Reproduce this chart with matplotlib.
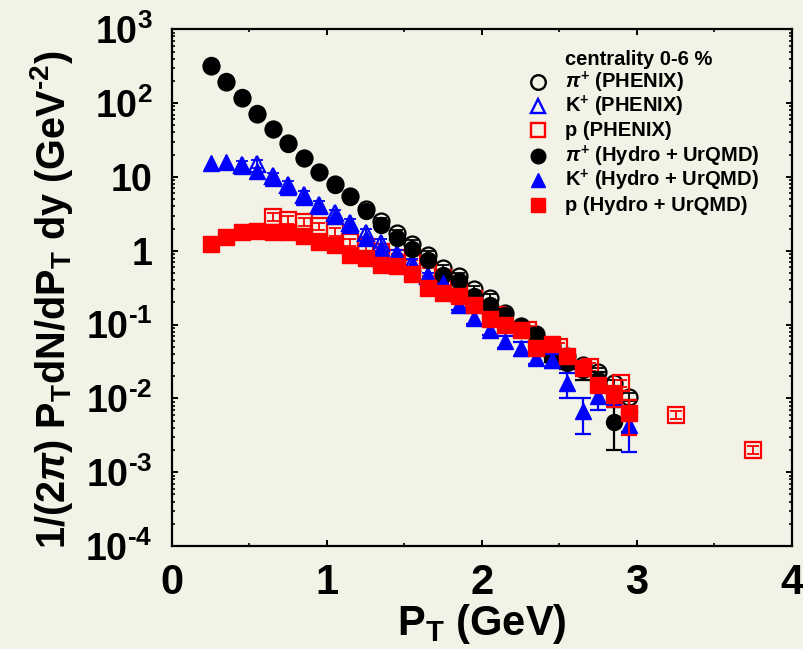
import matplotlib
matplotlib.use('Agg')
import matplotlib.pyplot as plt
import numpy as np
from matplotlib.lines import Line2D
from matplotlib.ticker import FixedLocator, FixedFormatter, MultipleLocator, LogLocator, NullFormatter

# ---------------- data ----------------
pt_bins = [0.25, 0.35, 0.45, 0.55, 0.65, 0.75, 0.85, 0.95, 1.05, 1.15, 1.25, 1.35, 1.45, 1.55,
           1.65, 1.75, 1.85, 1.95, 2.05, 2.15, 2.25, 2.35, 2.45, 2.55, 2.65, 2.75, 2.85, 2.95]

pi_phenix = [318, 196, 118, 72, 44, 28.5, 18.2, 11.8, 8.1, 5.6, 3.7, 2.5, 1.72, 1.25,
             0.88, 0.58, 0.45, 0.30, 0.229, 0.144, 0.095, 0.075, 0.052, 0.038, 0.028, 0.023, 0.016, 0.0105]

pt_k_phenix = [0.45, 0.55, 0.65, 0.75, 0.85, 0.95, 1.05, 1.15, 1.25, 1.35, 1.45, 1.55, 1.65, 1.75, 1.85, 1.95]
k_phenix = [14.5, 15.0, 10.2, 7.8, 5.7, 4.2, 3.2, 2.37, 1.74, 1.27, 0.91, 0.68, 0.45, 0.38, 0.27, 0.20]

pt_p_phenix = [0.65, 0.75, 0.85, 0.95, 1.05, 1.15, 1.25, 1.35, 1.45, 1.55, 1.65, 1.75, 1.85, 1.95,
               2.1, 2.3, 2.5, 2.7, 2.9, 3.25, 3.75]
p_phenix = [2.91, 2.62, 2.45, 2.15, 1.8, 1.30, 1.12, 0.97, 0.80, 0.675, 0.515, 0.43, 0.30, 0.22,
            0.135, 0.085, 0.050, 0.027, 0.016, 0.0060, 0.0020]
phenix_rel_err = 0.12

pi_hydro = [329, 202, 122, 73, 44, 28, 17.9, 11.6, 7.8, 5.4, 3.5, 2.2, 1.5, 1.05,
            0.74, 0.47, 0.385, 0.241, 0.186, 0.136, 0.095, 0.073, 0.035, 0.030, 0.024, 0.018, 0.0048, 0.0065]
pi_hydro_err = [0, 0, 0, 0, 0, 0, 0, 0, 0, 0, 0, 0, 0, 0,
                0, 0, 0, 0, 0, 0, 0, 0, 0.004, 0.005, 0.006, 0.005, 0.0028, 0.003]

k_hydro = [15.3, 15.7, 14.1, 12.2, 9.6, 7.2, 5.4, 4.0, 3.0, 2.2, 1.5, 1.09, 0.84, 0.62,
           0.43, 0.365, 0.186, 0.123, 0.085, 0.059, 0.048, 0.035, 0.033, 0.016, 0.0067, 0.0107, 0.0105, 0.0044]
k_hydro_err = [0, 0, 0, 0, 0, 0, 0, 0, 0, 0, 0, 0, 0, 0,
               0, 0, 0.027, 0.02, 0.012, 0.011, 0.01, 0.006, 0.007, 0.006, 0.0034, 0.0037, 0, 0.0025]

p_hydro = [1.24, 1.53, 1.77, 1.88, 1.77, 1.82, 1.56, 1.3, 1.18, 0.88, 0.80, 0.64, 0.63, 0.49,
           0.31, 0.27, 0.245, 0.186, 0.12, 0.098, 0.085, 0.048, 0.054, 0.037, 0.026, 0.0154, 0.0112, 0.0064]
p_hydro_err = [0, 0, 0, 0, 0, 0, 0, 0, 0, 0, 0, 0, 0, 0,
               0, 0, 0, 0, 0, 0, 0, 0, 0, 0, 0, 0, 0.0035, 0.0032]

y_tick_vals = [1e-4, 1e-3, 1e-2, 1e-1, 1, 10, 1e2, 1e3]
y_tick_labels = [r'$10^{\text{-}4}$', r'$10^{\text{-}3}$', r'$10^{\text{-}2}$', r'$10^{\text{-}1}$',
                 '1', '10', r'$10^{2}$', r'$10^{3}$']
x_tick_vals = [0, 1, 2, 3, 4]
x_tick_labels = ['0', '1', '2', '3', '4']

legend_title = 'centrality 0-6 %'
legend_labels = [r'$\pi^{+}$ (PHENIX)', r'K$^{+}$ (PHENIX)', 'p (PHENIX)',
                 r'$\pi^{+}$ (Hydro + UrQMD)', r'K$^{+}$ (Hydro + UrQMD)', 'p (Hydro + UrQMD)']

# ---------------- style ----------------
BG = '#f2f2e6'
plt.rcParams['mathtext.fontset'] = 'custom'
plt.rcParams['mathtext.rm'] = 'Liberation Sans:bold'
plt.rcParams['mathtext.bf'] = 'Liberation Sans:bold'
plt.rcParams['mathtext.it'] = 'Liberation Sans:italic:bold'
plt.rcParams['mathtext.sf'] = 'Liberation Sans:bold'
plt.rcParams['font.family'] = ['Liberation Sans', 'DejaVu Sans']
plt.rcParams['font.weight'] = 'bold'

fig = plt.figure(figsize=(8.04, 6.49), dpi=100, facecolor=BG)
ax = fig.add_axes([172 / 804, 1 - 546 / 649, (792 - 172) / 804, (546 - 29.3) / 649])
ax.set_facecolor(BG)
ax.set_yscale('log')
ax.set_xlim(0, 4)
ax.set_ylim(1e-4, 1e3)

MS = 11.5


def phenix(x, y, marker, color, ms):
    x = np.asarray(x); y = np.asarray(y)
    ax.errorbar(x, y, yerr=phenix_rel_err * y, fmt='none', ecolor=color, elinewidth=1.3,
                capsize=4.5, capthick=1.3, zorder=3)
    ax.plot(x, y, linestyle='none', marker=marker, ms=ms, mfc='none', mec=color, mew=1.6, zorder=3)


phenix(pt_bins, pi_phenix, 'o', 'black', MS)
phenix(pt_p_phenix, p_phenix, 's', 'red', MS)
phenix(pt_k_phenix, k_phenix, '^', 'blue', MS)


def hydro(x, y, err, marker, color, ms, z):
    x = np.asarray(x); y = np.asarray(y); e = np.asarray(err)
    m = e > 0
    ax.errorbar(x[m], y[m], yerr=e[m], fmt='none', ecolor=color, elinewidth=1.6,
                capsize=6, capthick=1.6, zorder=z)
    ax.plot(x, y, linestyle='none', marker=marker, ms=ms, mfc=color, mec=color, zorder=z)


hydro(pt_bins, pi_hydro, pi_hydro_err, 'o', 'black', MS, 4)
hydro(pt_bins, k_hydro, k_hydro_err, '^', 'blue', MS, 5)
hydro(pt_bins, p_hydro, p_hydro_err, 's', 'red', 11, 6)

# axes styling
for s in ax.spines.values():
    s.set_linewidth(1.6)
ax.yaxis.set_major_locator(FixedLocator(y_tick_vals))
ax.yaxis.set_major_formatter(FixedFormatter(y_tick_labels))
ax.yaxis.set_minor_locator(LogLocator(base=10, subs=np.arange(2, 10), numticks=20))
ax.yaxis.set_minor_formatter(NullFormatter())
ax.xaxis.set_major_locator(FixedLocator(x_tick_vals))
ax.xaxis.set_major_formatter(FixedFormatter(x_tick_labels))
ax.xaxis.set_minor_locator(MultipleLocator(0.5))
ax.tick_params(which='both', direction='in', top=True, right=True)
ax.tick_params(which='major', length=4, width=1.4)
ax.tick_params(which='minor', length=2.5, width=1.2)
ax.tick_params(axis='y', which='major', labelsize=27, pad=14)
ax.tick_params(axis='x', which='major', labelsize=30, pad=12)
for lab in ax.get_yticklabels() + ax.get_xticklabels():
    lab.set_fontweight('bold')

fig.text(52 / 804, 1 - 300 / 649,
         r'1/(2$\pi$) P$_\mathregular{T}$dN/dP$_\mathregular{T}$ dy (GeV$^{\text{-}2}$)',
         rotation=90, ha='center', va='center', fontsize=28.5, fontweight='bold')
fig.text(482 / 804, 1 - 624 / 649, r'P$_\mathregular{T}$ (GeV)', ha='center', va='center',
         fontsize=30, fontweight='bold')

# legend (rows placed at fixed spacing, outside the data axes)
LEG_FS = 14.5
marker_x = 538 / 804
text_x = 565 / 804
row_px = [82, 106, 130, 156, 180, 205]
leg_styles = [dict(marker='o', mfc='none', mec='black', mew=1.7),
              dict(marker='^', mfc='none', mec='blue', mew=1.7),
              dict(marker='s', mfc='none', mec='red', mew=1.7),
              dict(marker='o', mfc='black', mec='black'),
              dict(marker='^', mfc='blue', mec='blue'),
              dict(marker='s', mfc='red', mec='red')]
fig.text(text_x, 1 - 65 / 649, legend_title, fontsize=LEG_FS, fontweight='bold', va='baseline')
for lbl, yp, st in zip(legend_labels, row_px, leg_styles):
    fig.add_artist(Line2D([marker_x], [1 - yp / 649], transform=fig.transFigure,
                          linestyle='none', ms=10.5, **st))
    fig.text(text_x, 1 - (yp + 6) / 649, lbl, fontsize=LEG_FS, fontweight='bold', va='baseline')

fig.savefig('out.png', dpi=100, facecolor=BG)
